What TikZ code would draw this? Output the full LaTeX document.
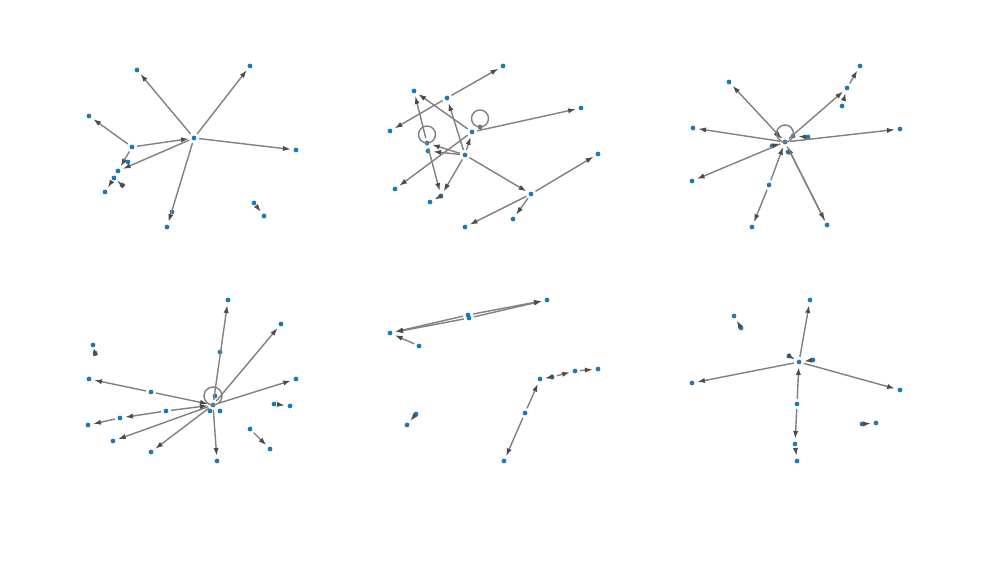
\documentclass[tikz,border=0pt]{standalone}
\usetikzlibrary{arrows.meta}
\definecolor{nxblue}{HTML}{1F77B4}
\begin{document}
\begin{tikzpicture}[x=0.02cm, y=-0.02cm,
    dot/.style={circle, fill=nxblue, inner sep=0pt, minimum size=0.095cm, outer sep=1.6pt},
    edge/.style={draw=black!50, line width=0.8pt, -{Latex[length=4.5pt,width=3pt,black!70]}},
    selfloop/.style={draw=black!50, line width=0.8pt}]
    \useasboundingbox (0,0) rectangle (1000,564);

    \node[dot] (a0) at (194,138) {};
    \node[dot] (a1) at (137,70) {};
    \node[dot] (a2) at (250,66) {};
    \node[dot] (a3) at (89,116) {};
    \node[dot] (a4) at (132,147) {};
    \node[dot] (a5) at (296,150) {};
    \node[dot] (a6) at (128,162) {};
    \node[dot] (a7) at (118,171) {};
    \node[dot] (a8) at (114,178) {};
    \node[dot] (a9) at (122,185) {};
    \node[dot] (a10) at (105,192) {};
    \node[dot] (a11) at (172,212) {};
    \node[dot] (a12) at (167,227) {};
    \node[dot] (a13) at (254,203) {};
    \node[dot] (a14) at (264,216) {};
    \draw[edge] (a0) -- (a1);
    \draw[edge] (a0) -- (a2);
    \draw[edge] (a4) -- (a3);
    \draw[edge] (a4) -- (a0);
    \draw[edge] (a0) -- (a5);
    \draw[edge] (a4) -- (a7);
    \draw[edge] (a0) -- (a7);
    \draw[edge] (a8) -- (a10);
    \draw[edge] (a9) -- (a8);
    \draw[edge] (a0) -- (a12);
    \draw[edge] (a13) -- (a14);

    \node[dot] (b1) at (503,66) {};
    \node[dot] (b2) at (414,91) {};
    \node[dot] (b3) at (447,98) {};
    \node[dot] (b4) at (390,131) {};
    \node[dot] (b5) at (472,132) {};
    \node[dot] (b6) at (480,127) {};
    \node[dot] (b7) at (581,108) {};
    \node[dot] (b8) at (427,143) {};
    \node[dot] (b9) at (428,151) {};
    \node[dot] (b10) at (465,155) {};
    \node[dot] (b11) at (598,154) {};
    \node[dot] (b12) at (395,189) {};
    \node[dot] (b13) at (441,196) {};
    \node[dot] (b14) at (430,202) {};
    \node[dot] (b15) at (531,194) {};
    \node[dot] (b16) at (513,219) {};
    \node[dot] (b17) at (465,227) {};
    \draw[edge] (b3) -- (b1);
    \draw[edge] (b3) -- (b4);
    \draw[edge] (b5) -- (b2);
    \draw[edge] (b10) -- (b3);
    \draw[edge] (b10) -- (b8);
    \draw[edge] (b10) -- (b9);
    \draw[edge] (b10) -- (b5);
    \draw[edge] (b10) -- (b13);
    \draw[edge] (b5) -- (b12);
    \draw[edge] (b5) -- (b7);
    \draw[edge] (b10) -- (b15);
    \draw[edge] (b15) -- (b11);
    \draw[edge] (b15) -- (b17);
    \draw[edge] (b15) -- (b16);
    \draw[edge] (b13) -- (b14);
    \draw[edge] (b8) -- (b2);
    \draw[edge] (b8) -- (b13);
    \draw[selfloop] (b8.center) ++(0,-8.5) circle[radius=0.17cm];
    \draw[selfloop] (b6.center) ++(0,-8.5) circle[radius=0.17cm];

    \node[dot] (c0) at (785,142) {};
    \node[dot] (c1) at (729,82) {};
    \node[dot] (c2) at (860,66) {};
    \node[dot] (c3) at (847,88) {};
    \node[dot] (c4) at (842,106) {};
    \node[dot] (c5) at (693,128) {};
    \node[dot] (c6) at (900,129) {};
    \node[dot] (c7) at (777,134) {};
    \node[dot] (c8) at (793,136) {};
    \node[dot] (c9) at (808,137) {};
    \node[dot] (c10) at (772,146) {};
    \node[dot] (c11) at (788,152) {};
    \node[dot] (c12) at (692,181) {};
    \node[dot] (c13) at (769,185) {};
    \node[dot] (c14) at (752,227) {};
    \node[dot] (c15) at (827,225) {};
    \draw[edge] (c0) -- (c1);
    \draw[edge] (c0) -- (c3);
    \draw[edge] (c3) -- (c2);
    \draw[edge] (c4) -- (c3);
    \draw[edge] (c0) -- (c5);
    \draw[edge] (c0) -- (c6);
    \draw[edge] (c0) -- (c12);
    \draw[edge] (c13) -- (c0);
    \draw[edge] (c13) -- (c14);
    \draw[edge] (c15) -- (c0);
    \draw[edge] (c0) -- (c15);
    \draw[edge] (c9) -- (c8);
    \draw[edge] (c10) -- (c0);
    \draw[edge] (c7) -- (c0);
    \draw[selfloop] (c0.center) ++(0,-8.5) circle[radius=0.17cm];

    \node[dot] (d0) at (213,405) {};
    \node[dot] (d1) at (228,300) {};
    \node[dot] (d2) at (281,324) {};
    \node[dot] (d3) at (93,345) {};
    \node[dot] (d4) at (95,353) {};
    \node[dot] (d5) at (220,352) {};
    \node[dot] (d6) at (89,379) {};
    \node[dot] (d7) at (296,379) {};
    \node[dot] (d8) at (151,392) {};
    \node[dot] (d9) at (215,396) {};
    \node[dot] (d10) at (274,404) {};
    \node[dot] (d11) at (290,406) {};
    \node[dot] (d12) at (210,411) {};
    \node[dot] (d13) at (220,411) {};
    \node[dot] (d14) at (166,411) {};
    \node[dot] (d15) at (120,418) {};
    \node[dot] (d16) at (88,425) {};
    \node[dot] (d17) at (250,429) {};
    \node[dot] (d18) at (113,441) {};
    \node[dot] (d19) at (270,449) {};
    \node[dot] (d20) at (151,452) {};
    \node[dot] (d21) at (217,461) {};
    \draw[edge] (d0) -- (d1);
    \draw[edge] (d0) -- (d2);
    \draw[edge] (d0) -- (d7);
    \draw[edge] (d8) -- (d6);
    \draw[edge] (d8) -- (d0);
    \draw[edge] (d14) -- (d15);
    \draw[edge] (d14) -- (d0);
    \draw[edge] (d15) -- (d16);
    \draw[edge] (d0) -- (d18);
    \draw[edge] (d0) -- (d20);
    \draw[edge] (d0) -- (d21);
    \draw[edge] (d3) -- (d4);
    \draw[edge] (d10) -- (d11);
    \draw[edge] (d17) -- (d19);
    \draw[selfloop] (d0.center) ++(0,-9) circle[radius=0.18cm];

    \node[dot] (e1) at (547,300) {};
    \node[dot] (e2) at (468,315) {};
    \node[dot] (e3) at (469,318) {};
    \node[dot] (e4) at (390,333) {};
    \node[dot] (e5) at (419,346) {};
    \node[dot] (e6) at (598,369) {};
    \node[dot] (e7) at (575,371) {};
    \node[dot] (e8) at (552,377) {};
    \node[dot] (e9) at (540,379) {};
    \node[dot] (e10) at (525,413) {};
    \node[dot] (e11) at (416,414) {};
    \node[dot] (e12) at (407,425) {};
    \node[dot] (e13) at (504,461) {};
    \draw[edge] (e2) -- (e1);
    \draw[edge] (e3) -- (e1);
    \draw[edge] (e2) -- (e4);
    \draw[edge] (e3) -- (e4);
    \draw[edge] (e5) -- (e4);
    \draw[edge] (e10) -- (e9);
    \draw[edge] (e10) -- (e13);
    \draw[edge] (e8) -- (e9);
    \draw[edge] (e8) -- (e7);
    \draw[edge] (e7) -- (e6);
    \draw[edge] (e11) -- (e12);

    \node[dot] (f0) at (799,362) {};
    \node[dot] (f1) at (810,300) {};
    \node[dot] (f2) at (734,316) {};
    \node[dot] (f3) at (741,328) {};
    \node[dot] (f4) at (789,356) {};
    \node[dot] (f5) at (813,360) {};
    \node[dot] (f6) at (692,383) {};
    \node[dot] (f7) at (900,390) {};
    \node[dot] (f8) at (797,404) {};
    \node[dot] (f9) at (862,424) {};
    \node[dot] (f10) at (876,423) {};
    \node[dot] (f11) at (795,444) {};
    \node[dot] (f12) at (797,461) {};
    \draw[edge] (f0) -- (f1);
    \draw[edge] (f0) -- (f6);
    \draw[edge] (f0) -- (f7);
    \draw[edge] (f8) -- (f0);
    \draw[edge] (f8) -- (f11);
    \draw[edge] (f11) -- (f12);
    \draw[edge] (f4) -- (f0);
    \draw[edge] (f5) -- (f0);
    \draw[edge] (f3) -- (f2);
    \draw[edge] (f9) -- (f10);
\end{tikzpicture}
\end{document}
